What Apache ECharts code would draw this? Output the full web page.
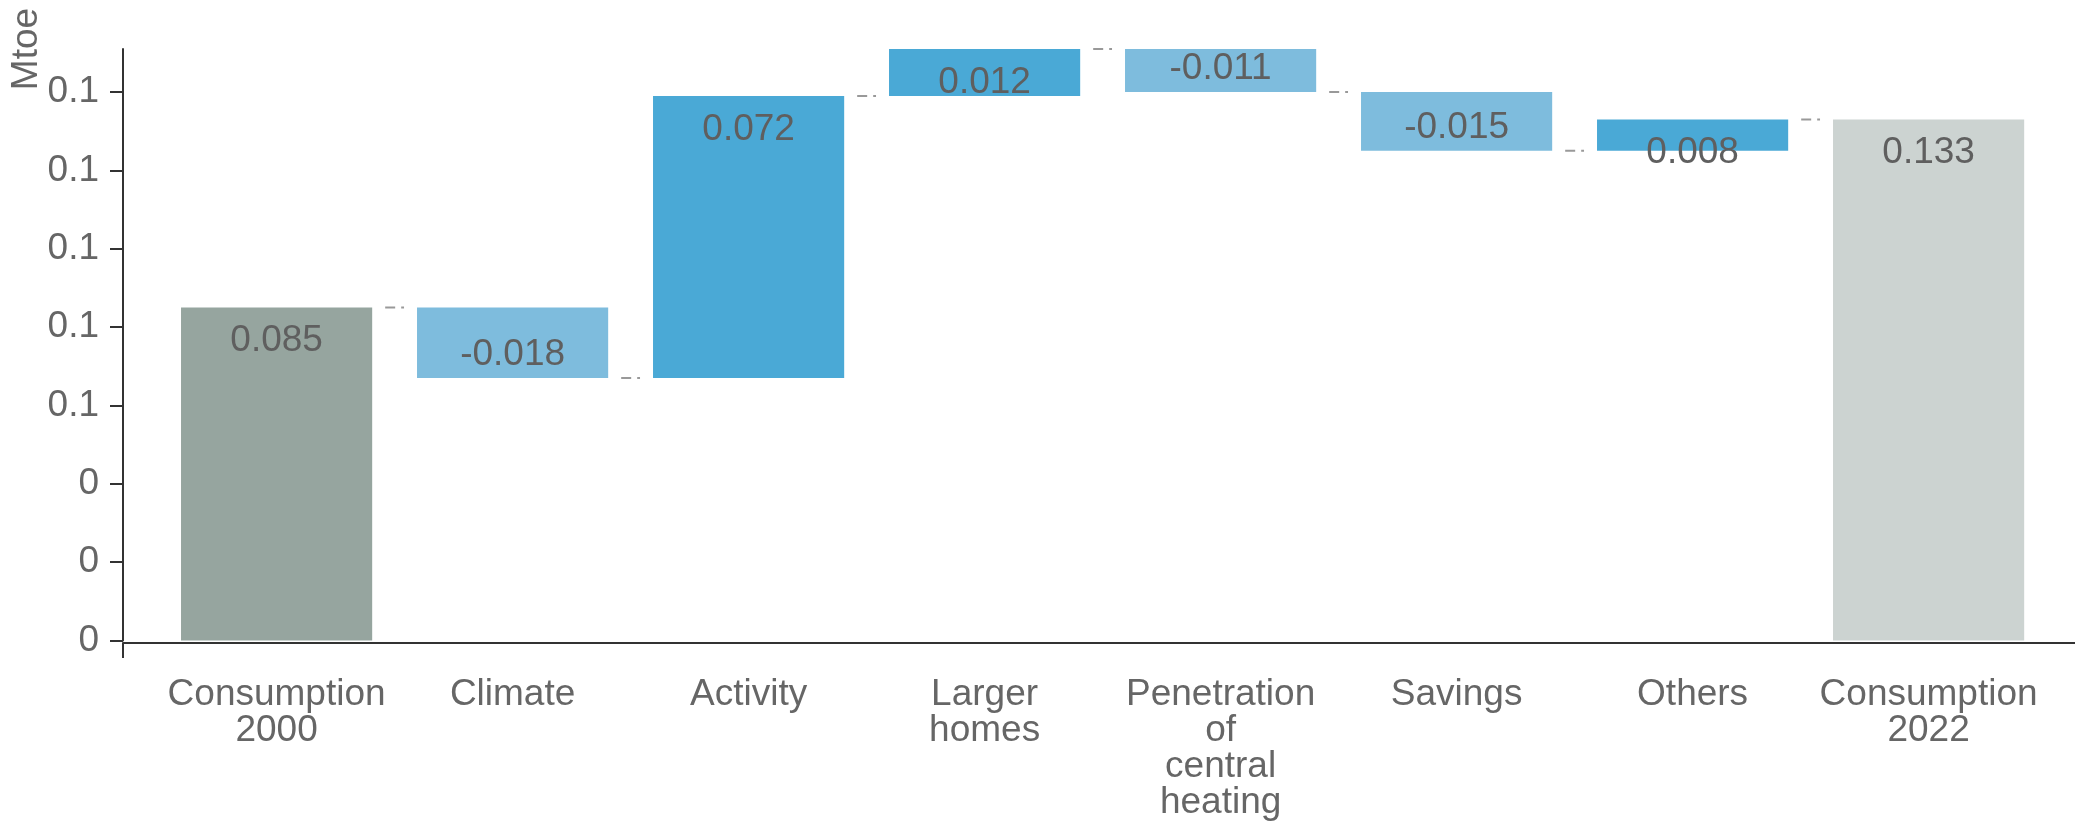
<!DOCTYPE html>
<html>
<head>
<meta charset="utf-8">
<script src="https://cdn.jsdelivr.net/npm/echarts@6/dist/echarts.min.js"></script>
<style>
html, body { margin: 0; padding: 0; background: #fff; }
#c_chart { width: 2075px; height: 821px; }
</style>
</head>
<body>
<div id="c_chart"></div>
<script>
// data
var cats = ['Consumption\n2000', 'Climate', 'Activity', 'Larger\nhomes', 'Penetration\nof\ncentral\nheating', 'Savings', 'Others', 'Consumption\n2022'];
var vals = [0.085, -0.018, 0.072, 0.012, -0.011, -0.015, 0.008, 0.133];
var isTotal = [true, false, false, false, false, false, false, true];
var yLabels = ['0', '0', '0', '0.1', '0.1', '0.1', '0.1', '0.1'];
var yStep = 0.02;
var yMax = 0.151;

var dm = document.getElementById('c_chart');
var ch = echarts.init(dm);
var txt = '#666';
var fnt = 'Liberation Sans';

// waterfall: invisible base + visible step
var base = [], step = [], links = [];
var run = 0;
vals.forEach(function (v, i) {
    var col;
    if (isTotal[i]) {
        base.push(0);
        run = v;
        col = i === 0 ? '#96a59f' : '#ccd3d1';
    } else if (v >= 0) {
        base.push(run);
        run += v;
        col = '#4aa9d6';
    } else {
        run += v;
        base.push(run);
        col = '#7ebcdd';
    }
    step.push({
        value: Math.abs(v),
        itemStyle: { color: col },
        label: {
            position: v < 0 ? 'insideBottom' : 'insideTop',
            distance: v < 0 ? 5 : 15,
            formatter: String(v)
        }
    });
    if (i < vals.length - 1) links.push([i, +run.toFixed(4)]);
});

var option = {
    animation: false,
    grid: [
        { left: 158.6, right: 28.4, top: 49, bottom: 178 },
        { left: 123, right: 0, top: 49, bottom: 178 }
    ],
    graphic: [{
        type: 'text',
        x: 27, y: 49,
        rotation: Math.PI / 2,
        style: { text: 'Mtoe', fill: txt, font: '37px "Liberation Sans"', align: 'center', verticalAlign: 'middle' }
    }],
    xAxis: [
        {
            type: 'category',
            gridIndex: 0,
            data: cats,
            axisLine: { show: false },
            axisTick: { alignWithLabel: true, length: 15, lineStyle: { color: '#333', width: 1.5 } },
            axisLabel: { color: txt, fontFamily: fnt, fontSize: 37, lineHeight: 36, margin: 36, interval: 0 }
        },
        {
            type: 'category',
            gridIndex: 1,
            data: ['', ''],
            boundaryGap: false,
            axisLine: { lineStyle: { color: '#333', width: 2 } },
            axisTick: {
                length: 15,
                interval: function (idx) { return idx === 0; },
                lineStyle: { color: '#333', width: 2 }
            },
            axisLabel: { show: false }
        }
    ],
    yAxis: [
        {
            type: 'value',
            gridIndex: 0,
            min: 0,
            max: yMax,
            interval: yStep,
            offset: 35.6,
            splitLine: { show: false },
            axisLine: { show: true, lineStyle: { color: '#333', width: 2 } },
            axisTick: { show: true, length: 13, lineStyle: { color: '#333', width: 2 } },
            axisLabel: {
                color: txt, fontFamily: fnt, fontSize: 37, margin: 24, showMaxLabel: false,
                formatter: function (v) { return yLabels[Math.round(v / yStep)] || ''; }
            }
        },
        { type: 'value', gridIndex: 1, min: 0, max: yMax, show: false }
    ],
    series: [
        {
            type: 'custom',
            xAxisIndex: 0, yAxisIndex: 0,
            data: links,
            z: 1,
            renderItem: function (params, api) {
                var p = api.coord([api.value(0), api.value(1)]);
                var bw = api.size([1, 0])[0];
                var half = bw * 0.81 / 2;
                return {
                    type: 'line',
                    shape: { x1: p[0] + half + 13, y1: p[1], x2: p[0] + bw - half - 13, y2: p[1] },
                    style: { stroke: '#999', lineWidth: 2, lineDash: [10, 6] }
                };
            }
        },
        {
            type: 'bar',
            stack: 'wf',
            xAxisIndex: 0, yAxisIndex: 0,
            barWidth: '81%',
            itemStyle: { color: 'transparent' },
            emphasis: { disabled: true },
            data: base
        },
        {
            type: 'bar',
            stack: 'wf',
            xAxisIndex: 0, yAxisIndex: 0,
            barWidth: '81%',
            label: { show: true, color: '#5f5f5f', fontFamily: fnt, fontSize: 37 },
            data: step
        }
    ]
};

ch.setOption(option);
window.onresize = function () {
    ch.resize();
};
</script>
</body>
</html>
